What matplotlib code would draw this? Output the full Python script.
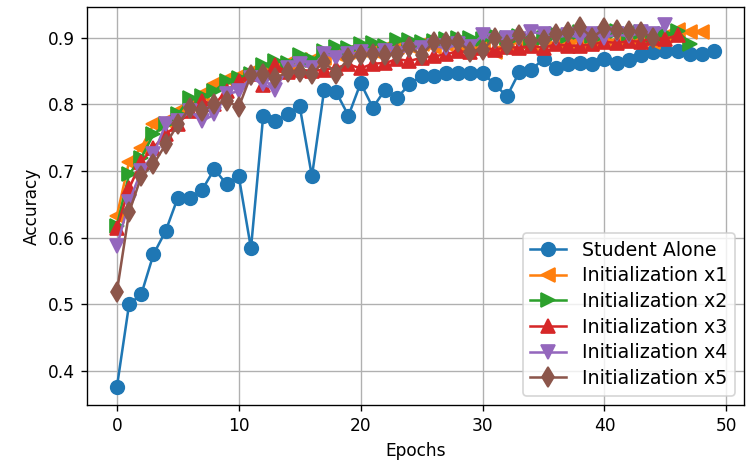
import numpy as np
import matplotlib
matplotlib.use('Agg')
from matplotlib import pyplot as plt

student = [0.376, 0.500, 0.515, 0.575, 0.610, 0.660, 0.660, 0.672, 0.703, 0.680,
           0.692, 0.584, 0.782, 0.775, 0.785, 0.797, 0.692, 0.821, 0.818, 0.783,
           0.832, 0.795, 0.822, 0.810, 0.830, 0.843, 0.843, 0.847, 0.847, 0.847,
           0.847, 0.830, 0.812, 0.848, 0.852, 0.868, 0.855, 0.860, 0.862, 0.860,
           0.868, 0.862, 0.866, 0.874, 0.878, 0.880, 0.880, 0.875, 0.875, 0.880]
init_x1 = [0.633, 0.714, 0.735, 0.770, 0.775, 0.790, 0.800, 0.815, 0.830, 0.838,
           0.843, 0.848, 0.852, 0.858, 0.862, 0.866, 0.866, 0.870, 0.875, 0.878,
           0.882, 0.880, 0.885, 0.886, 0.888, 0.890, 0.886, 0.890, 0.888, 0.884,
           0.892, 0.879, 0.890, 0.893, 0.890, 0.895, 0.890, 0.894, 0.895, 0.890,
           0.897, 0.895, 0.898, 0.896, 0.893, 0.902, 0.911, 0.909, 0.909]
init_x2 = [0.618, 0.695, 0.720, 0.755, 0.770, 0.785, 0.810, 0.812, 0.820, 0.835,
           0.840, 0.845, 0.859, 0.865, 0.862, 0.874, 0.866, 0.880, 0.886, 0.884,
           0.891, 0.892, 0.888, 0.896, 0.897, 0.893, 0.895, 0.898, 0.900, 0.900,
           0.898, 0.902, 0.900, 0.903, 0.895, 0.900, 0.905, 0.902, 0.908, 0.903,
           0.906, 0.910, 0.906, 0.908, 0.904, 0.905, 0.910, 0.891]
init_x3 = [0.614, 0.674, 0.714, 0.735, 0.755, 0.770, 0.790, 0.805, 0.800, 0.820,
           0.835, 0.845, 0.829, 0.859, 0.848, 0.852, 0.850, 0.852, 0.855, 0.860,
           0.854, 0.861, 0.862, 0.868, 0.865, 0.870, 0.872, 0.875, 0.880, 0.878,
           0.885, 0.882, 0.886, 0.885, 0.888, 0.885, 0.890, 0.888, 0.888, 0.890,
           0.894, 0.892, 0.895, 0.894, 0.900, 0.898, 0.904]
init_x4 = [0.587, 0.654, 0.700, 0.725, 0.770, 0.775, 0.790, 0.775, 0.785, 0.815,
           0.820, 0.840, 0.830, 0.822, 0.855, 0.860, 0.855, 0.876, 0.870, 0.875,
           0.878, 0.873, 0.880, 0.876, 0.882, 0.885, 0.888, 0.884, 0.890, 0.886,
           0.904, 0.895, 0.900, 0.898, 0.909, 0.905, 0.900, 0.904, 0.900, 0.906,
           0.900, 0.905, 0.902, 0.908, 0.906, 0.919]
init_x5 = [0.519, 0.638, 0.692, 0.710, 0.740, 0.770, 0.795, 0.790, 0.800, 0.805,
           0.796, 0.844, 0.846, 0.839, 0.849, 0.849, 0.846, 0.864, 0.846, 0.869,
           0.874, 0.876, 0.874, 0.876, 0.886, 0.874, 0.894, 0.894, 0.894, 0.879,
           0.882, 0.900, 0.889, 0.904, 0.895, 0.897, 0.905, 0.909, 0.916, 0.900,
           0.914, 0.912, 0.910, 0.909, 0.900]

series = [student, init_x1, init_x2, init_x3, init_x4, init_x5]
labels = ['Student Alone', 'Initialization x1', 'Initialization x2',
          'Initialization x3', 'Initialization x4', 'Initialization x5']
markers = ['o', '<', '>', '^', 'v', 'd']

dpi = 122
fig = plt.figure(figsize=(747 / dpi, 463 / dpi), dpi=dpi)
ax = fig.add_axes([0.1165, 0.125, 0.8795, 0.860])

for ys, lab, m in zip(series, labels, markers):
  ax.plot(np.arange(len(ys)), ys, marker=m, markersize=8, label=lab)

ax.set_xlabel('Epochs')
ax.set_ylabel('Accuracy')
ax.grid()
# legend text in the reference looks a bit wider
ax.legend(loc='lower right', fontsize=11.2, labelspacing=0.35, handlelength=1.9)
fig.savefig('out.png', dpi=dpi)
